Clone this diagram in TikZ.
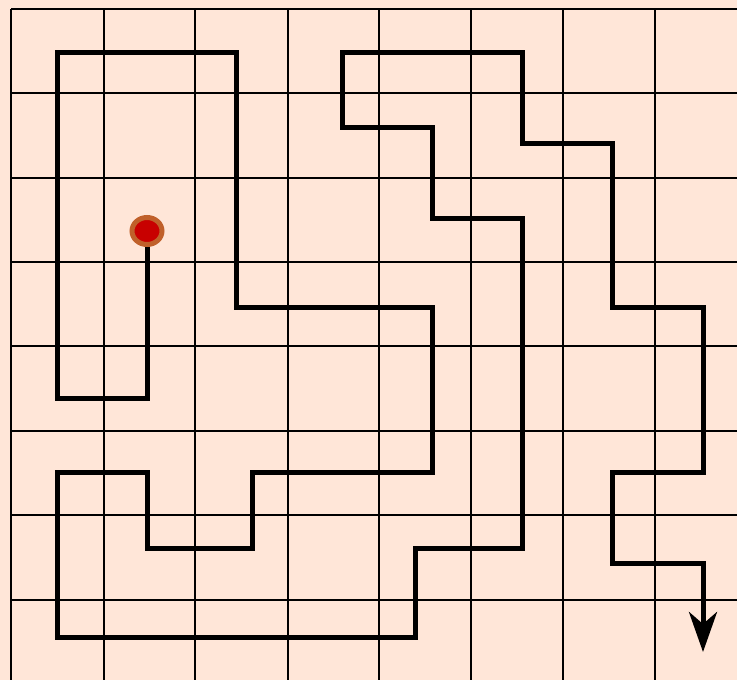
\documentclass[tikz,border=0pt]{standalone}
\usetikzlibrary{arrows.meta,shapes.geometric}
\definecolor{bgc}{HTML}{FFE6D8}
\definecolor{ringc}{HTML}{C0602A}
\definecolor{dotc}{HTML}{C80000}
\begin{document}
\begin{tikzpicture}[x=1pt,y=-1pt,
  gridline/.style={black,line width=2pt},
  route/.style={black,line width=5pt,line join=miter},
  startdot/.style={ellipse,draw=ringc,fill=dotc,line width=5pt,minimum width=30pt,minimum height=27pt,inner sep=0pt}]
\fill[bgc] (0,0) rectangle (737,680);
\useasboundingbox (0,0) rectangle (737,680);
\foreach \x in {11,104,195,288,379,471,563,655}
  \draw[gridline] (\x,9) -- (\x,680);
\foreach \y in {9,93,178,262,346,431,515,600}
  \draw[gridline] (11,\y) -- (737,\y);
\coordinate (s) at (147,231);
\coordinate (e) at (703,652);
\draw[route,-{Stealth[length=40pt,width=28pt,inset=12pt]}] (s) -- (147,398) -- (57,398) -- (57,52) -- (236,52) -- (236,307) -- (432,307) -- (432,472) -- (252,472) -- (252,548) -- (147,548) -- (147,472) -- (57,472) -- (57,637) -- (415,637) -- (415,548) -- (522,548) -- (522,218) -- (432,218) -- (432,127) -- (342,127) -- (342,52) -- (522,52) -- (522,143) -- (612,143) -- (612,307) -- (703,307) -- (703,472) -- (612,472) -- (612,563) -- (703,563) -- (e);
\node[startdot] (dot) at (s) {};
\end{tikzpicture}
\end{document}
